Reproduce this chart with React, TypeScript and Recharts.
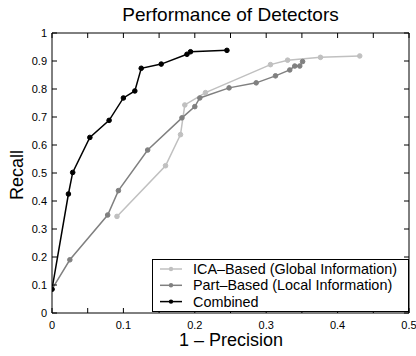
import { LineChart, Line, XAxis, YAxis, Legend } from "recharts"

const seriesNames = ["ICA\u2013Based (Global Information)", "Part\u2013Based (Local Information)", "Combined"]
const seriesColors = ["#c0c0c0", "#808080", "#000000"]

// 1 - precision / recall per detector
const icaX = [0.091, 0.159, 0.18, 0.186, 0.215, 0.306, 0.33, 0.376, 0.431]
const icaY = [0.345, 0.526, 0.637, 0.743, 0.787, 0.887, 0.903, 0.913, 0.918]

const partX = [0, 0.025, 0.078, 0.093, 0.134, 0.182, 0.2, 0.207, 0.248, 0.286, 0.313, 0.333, 0.34, 0.347, 0.351]
const partY = [0.085, 0.19, 0.35, 0.437, 0.582, 0.697, 0.737, 0.768, 0.804, 0.822, 0.847, 0.868, 0.882, 0.882, 0.898]

const combX = [0, 0.023, 0.029, 0.053, 0.08, 0.1, 0.116, 0.125, 0.153, 0.189, 0.194, 0.245]
const combY = [0.085, 0.425, 0.502, 0.627, 0.688, 0.768, 0.793, 0.874, 0.889, 0.924, 0.933, 0.938]

const xTicks = [0, 0.05, 0.1, 0.15, 0.2, 0.25, 0.3, 0.35, 0.4, 0.45, 0.5]
const yTicks = [0, 0.1, 0.2, 0.3, 0.4, 0.5, 0.6, 0.7, 0.8, 0.9, 1]

const toPoints = (xs: number[], ys: number[]) => xs.map((x, i) => ({ x, y: ys[i] }))
const series = [toPoints(icaX, icaY), toPoints(partX, partY), toPoints(combX, combY)]
// the grey ICA line hangs on the top/right axes so those get drawn too (same domains)
const axisPairs = [["top", "right"], [0, 0], [0, 0]]

const FONT = "'Liberation Sans', Arial, Helvetica, sans-serif"
const TICK = 5

const fmt = (v: number) => String(Math.round(v * 100) / 100)

function BottomTick(props: any) {
    const { x, y, payload, index } = props
    return (
        <g>
            <line x1={x} y1={y} x2={x} y2={y - TICK} stroke="#000" />
            {index % 2 === 0 && (
                <text x={x} y={y + 16} textAnchor="middle" fontSize={11} fontFamily={FONT} fill="#000">
                    {fmt(payload.value)}
                </text>
            )}
        </g>
    )
}

function TopTick(props: any) {
    const { x, y } = props
    return <line x1={x} y1={y} x2={x} y2={y + TICK} stroke="#000" />
}

function LeftTick(props: any) {
    const { x, y, payload } = props
    return (
        <g>
            <line x1={x} y1={y} x2={x + TICK} y2={y} stroke="#000" />
            <text x={x - 5} y={y + 4} textAnchor="end" fontSize={11} fontFamily={FONT} fill="#000">
                {fmt(payload.value)}
            </text>
        </g>
    )
}

function RightTick(props: any) {
    const { x, y } = props
    return <line x1={x} y1={y} x2={x - TICK} y2={y} stroke="#000" />
}

function LegendBox() {
    return (
        <svg width={257} height={53} style={{ display: "block" }}>
            <rect x={0.5} y={0.5} width={256} height={52} fill="#fff" stroke="#000" />
            {seriesNames.map((name, i) => {
                const cy = 10 + i * 16.3
                return (
                    <g key={name}>
                        <line x1={8} y1={cy} x2={30} y2={cy} stroke={seriesColors[i]} strokeWidth={1.5} />
                        <circle cx={19} cy={cy} r={2.2} fill={seriesColors[i]} />
                        <text x={41} y={cy + 5} fontSize={14.4} fontFamily={FONT} fill="#000">
                            {name}
                        </text>
                    </g>
                )
            })}
        </svg>
    )
}

export default function App() {
    return (
        <div style={{ position: "absolute", left: 0, top: 0, width: 416, height: 356, background: "#fff" }}>
            <LineChart width={416} height={356} margin={{ top: 32, right: 6, bottom: 13, left: 22 }}>
                <XAxis
                    dataKey="x"
                    type="number"
                    domain={[0, 0.5]}
                    ticks={xTicks}
                    interval={0}
                    height={30}
                    tickSize={0}
                    tickMargin={0}
                    tick={<BottomTick />}
                    axisLine={{ stroke: "#000" }}
                    allowDataOverflow
                />
                <XAxis
                    xAxisId="top"
                    dataKey="x"
                    orientation="top"
                    type="number"
                    domain={[0, 0.5]}
                    ticks={xTicks}
                    interval={0}
                    height={1}
                    tickSize={0}
                    tickMargin={0}
                    tick={<TopTick />}
                    axisLine={{ stroke: "#000" }}
                    allowDataOverflow
                />
                <YAxis
                    type="number"
                    domain={[0, 1]}
                    ticks={yTicks}
                    interval={0}
                    width={30}
                    tickSize={0}
                    tickMargin={0}
                    tick={<LeftTick />}
                    axisLine={{ stroke: "#000" }}
                    allowDataOverflow
                />
                <YAxis
                    yAxisId="right"
                    orientation="right"
                    type="number"
                    domain={[0, 1]}
                    ticks={yTicks}
                    interval={0}
                    width={1}
                    tickSize={0}
                    tickMargin={0}
                    tick={<RightTick />}
                    axisLine={{ stroke: "#000" }}
                    allowDataOverflow
                />
                {series.map((pts, i) => (
                    <Line
                        key={seriesNames[i]}
                        data={pts}
                        dataKey="y"
                        name={seriesNames[i]}
                        xAxisId={axisPairs[i][0]}
                        yAxisId={axisPairs[i][1]}
                        type="linear"
                        stroke={seriesColors[i]}
                        strokeWidth={1.5}
                        dot={{ r: 2.3, fill: seriesColors[i], stroke: seriesColors[i], strokeWidth: 1 }}
                        isAnimationActive={false}
                    />
                ))}
                <Legend
                    layout="horizontal"
                    verticalAlign="middle"
                    align="center"
                    content={() => <LegendBox />}
                    wrapperStyle={{ position: "absolute", left: 152, top: 259, width: 257, height: 53 }}
                />
                <text x={230.5} y={21} textAnchor="middle" fontSize={19} fontFamily={FONT} fill="#000">
                    Performance of Detectors
                </text>
                <text x={231} y={346} textAnchor="middle" fontSize={18} fontFamily={FONT} fill="#000">
                    1 {"\u2013"} Precision
                </text>
                <text
                    x={0}
                    y={0}
                    transform="translate(23,175) rotate(-90)"
                    textAnchor="middle"
                    fontSize={18}
                    fontFamily={FONT}
                    fill="#000"
                >
                    Recall
                </text>
            </LineChart>
        </div>
    )
}
